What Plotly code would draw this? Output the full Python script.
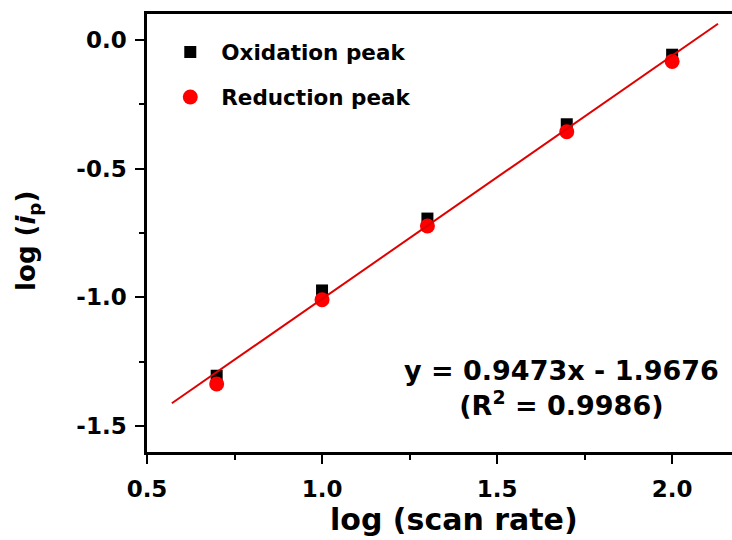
import plotly.graph_objects as go

# Data
log_scan_rate = [0.699, 1.0, 1.301, 1.699, 2.0]
oxidation_peak = [-1.304, -0.973, -0.694, -0.328, -0.058]
reduction_peak = [-1.336, -1.009, -0.723, -0.357, -0.084]

# Fitted line (endpoints as drawn)
fit_x = [0.571, 2.131]
fit_y = [-1.411, 0.062]
fit_slope = 0.9473
fit_intercept = -1.9676
fit_r2 = 0.9986

x_ticks = [0.5, 1.0, 1.5, 2.0]
y_ticks = [0.0, -0.5, -1.0, -1.5]

FONT = "DejaVu Sans"

fig = go.Figure()
fig.add_trace(go.Scatter(
    x=log_scan_rate, y=oxidation_peak, mode="markers", name="<b>Oxidation peak</b>",
    marker=dict(symbol="square", size=12, color="black"), legendgroup="a"))
fig.add_trace(go.Scatter(
    x=log_scan_rate, y=reduction_peak, mode="markers", name="<b>Reduction peak</b>",
    marker=dict(symbol="circle", size=15, color="#ff0000"), legendgroup="b"))
fig.add_trace(go.Scatter(
    x=fit_x, y=fit_y, mode="lines", showlegend=False,
    line=dict(color="#e00000", width=2)))

fig.add_annotation(
    x=0.709, y=0.146, xref="paper", yref="paper", xanchor="center", yanchor="middle",
    text=f"<b>y = {fit_slope:.4f}x - {abs(fit_intercept):.4f}<br>(R<sup>2</sup> = {fit_r2:.4f})</b>",
    showarrow=False, align="center", font=dict(family=FONT, size=27, color="black"))

# Axis titles
fig.add_annotation(
    x=0.525, y=-0.155, xref="paper", yref="paper", xanchor="center", yanchor="middle",
    text="<b>log (scan rate)</b>", showarrow=False,
    font=dict(family=FONT, size=30, color="black"))
fig.add_annotation(
    x=-0.2034, y=0.482, xref="paper", yref="paper", xanchor="center", yanchor="middle",
    text="<b>log (<i>i</i><sub>p</sub>)</b>", showarrow=False, textangle=-90,
    font=dict(family=FONT, size=26, color="black"))

fig.update_layout(
    width=732, height=540,
    margin=dict(l=147, r=0, t=14, b=88),
    plot_bgcolor="white", paper_bgcolor="white",
    font=dict(family=FONT, color="black"),
    legend=dict(x=0.021, y=0.96, xanchor="left", yanchor="top",
                font=dict(family=FONT, size=21.5, color="black"), itemwidth=52,
                bgcolor="rgba(0,0,0,0)", tracegroupgap=14, traceorder="grouped"),
    xaxis=dict(range=[0.5, 2.171], tickvals=x_ticks, ticktext=[f"<b>{v:.1f}</b>" for v in x_ticks],
               showgrid=False, zeroline=False, showline=True, linecolor="black", linewidth=2.5,
               mirror=True, ticks="outside", ticklen=9, tickwidth=2, tickcolor="black",
               ticklabelstandoff=6,
               minor=dict(dtick=0.25, tick0=0.5, ticks="outside", ticklen=5, tickwidth=2, tickcolor="black"),
               tickfont=dict(family=FONT, size=23, color="black")),
    yaxis=dict(range=[-1.6, 0.1], tickvals=y_ticks, ticktext=[f"<b>{v:.1f}</b>" for v in y_ticks],
               showgrid=False, zeroline=False, showline=True, linecolor="black", linewidth=2.5,
               mirror=False, ticks="outside", ticklen=9, tickwidth=2, tickcolor="black",
               ticklabelstandoff=4,
               minor=dict(dtick=0.25, tick0=0, ticks="outside", ticklen=5, tickwidth=2, tickcolor="black"),
               tickfont=dict(family=FONT, size=23, color="black")),
)

fig.write_html("out.html")
